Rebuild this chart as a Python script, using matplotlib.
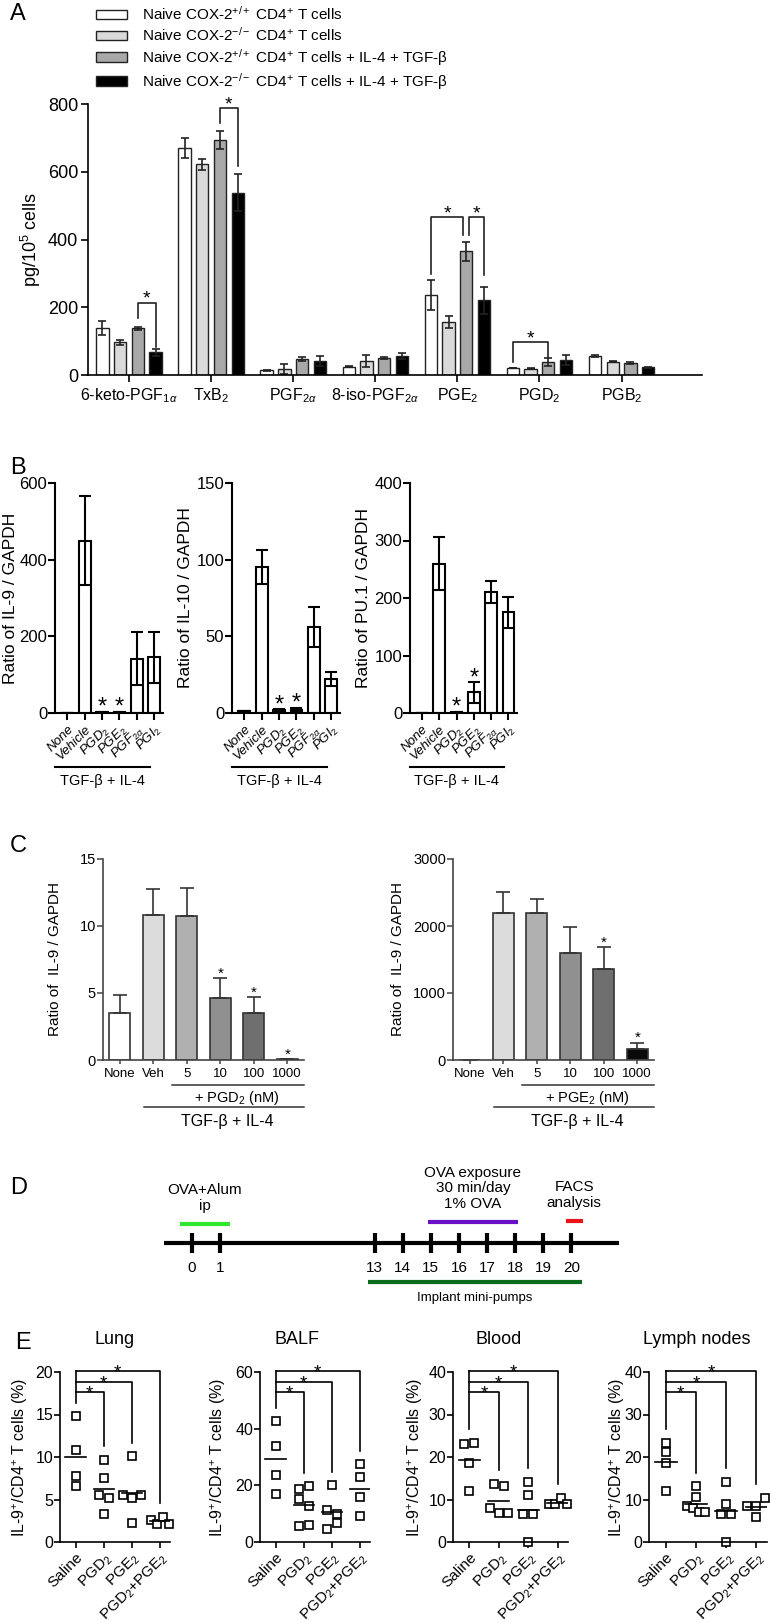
import numpy as np
import matplotlib
matplotlib.use('Agg')
import matplotlib.pyplot as plt
from matplotlib.transforms import blended_transform_factory as blend

plt.rcParams['font.family'] = ['Liberation Sans', 'DejaVu Sans']
plt.rcParams['mathtext.fontset'] = 'custom'
plt.rcParams['mathtext.rm'] = 'Liberation Sans'
plt.rcParams['mathtext.it'] = 'Liberation Sans:italic'
plt.rcParams['mathtext.bf'] = 'Liberation Sans:bold'
plt.rcParams['axes.linewidth'] = 1.2

# ---------------- data ----------------
# A: eicosanoid production
a_names = ['6-keto-PGF$_{1\\alpha}$', 'TxB$_2$', 'PGF$_{2\\alpha}$', '8-iso-PGF$_{2\\alpha}$',
           'PGE$_2$', 'PGD$_2$', 'PGB$_2$']
a_series = ['Naive COX-2$^{+/+}$ CD4$^{+}$ T cells',
            'Naive COX-2$^{-/-}$ CD4$^{+}$ T cells',
            'Naive COX-2$^{+/+}$ CD4$^{+}$ T cells + IL-4 + TGF-β',
            'Naive COX-2$^{-/-}$ CD4$^{+}$ T cells + IL-4 + TGF-β']
a_wt = [138, 671, 14, 25, 236, 21, 56]
a_wt_err = [20, 30, 2, 2, 43, 1, 2]
a_ko = [96, 622, 17, 42, 156, 19, 39]
a_ko_err = [8, 16, 15, 17, 17, 1, 1]
a_wt_cyt = [138, 693, 47, 51, 365, 39, 35]
a_wt_cyt_err = [5, 27, 6, 3, 28, 11, 3]
a_ko_cyt = [67, 538, 42, 57, 221, 44, 23]
a_ko_cyt_err = [10, 55, 14, 9, 40, 14, 2]
a_colors = ['white', '#dadada', '#a8a8a8', 'black']
# (group, bar i, bar j, top, leg i bottom, leg j bottom, nudge i, nudge j)
a_brackets = [(0, 2, 3, 214, 167, 84, 0, 0), (1, 2, 3, 789, 743, 617, 0, 0),
              (4, 0, 2, 465, 297, 413, 0, -0.035), (4, 2, 3, 465, 413, 295, 0.035, 0),
              (5, 0, 2, 98, 39, 54, 0, 0)]

# B: gene expression with prostanoids
b_treat = ['None', 'Vehicle', 'PGD$_2$', 'PGE$_2$', 'PGF$_{2\\alpha}$', 'PGI$_2$']
b_il9 = [1, 450, 2, 2, 142, 145]
b_il9_err = [0, 116, 1, 1, 70, 67]
b_il10 = [1, 95.4, 2, 2.2, 56, 22]
b_il10_err = [0, 11, 0.6, 1.3, 13, 4.5]
b_pu1 = [0.5, 260, 1, 36, 210, 175]
b_pu1_err = [0, 46, 1, 18, 19, 27]
b_sig = [2, 3]

# C: dose response
c_doses = ['None', 'Veh', '5', '10', '100', '1000']
c_pgd2 = [3.5, 10.8, 10.72, 4.6, 3.5, 0.05]
c_pgd2_err = [1.35, 1.95, 2.08, 1.5, 1.17, 0]
c_pge2 = [0, 2196, 2196, 1598, 1358, 165]
c_pge2_err = [0, 305, 205, 394, 329, 95]
c_pgd2_sig = [3, 4, 5]
c_pge2_sig = [4, 5]
c_colors = ['white', '#dcdcdc', '#b0b0b0', '#909090', '#6f6f6f', '#0a0a0a']

# D: protocol timeline (days)
d_days = [0, 1, 13, 14, 15, 16, 17, 18, 19, 20]
d_events = ['OVA+Alum\nip', 'OVA exposure\n30 min/day\n1% OVA', 'FACS\nanalysis']
d_start = [-0.43, 14.9, 19.8]
d_end = [1.35, 18.1, 20.4]
d_colors = ['#2fe82f', '#6a10c8', '#e8141a']
pump_start, pump_end = 12.75, 20.38

# E: IL-9+ CD4+ T cells in tissues
e_groups = ['Saline', 'PGD$_2$', 'PGE$_2$', 'PGD$_2$+PGE$_2$']
e_tissues = ['Lung', 'BALF', 'Blood', 'Lymph nodes']
lung = [[14.8, 10.8, 7.8, 6.55], [9.7, 7.5, 5.5, 5.2, 3.3],
        [10.1, 5.5, 5.2, 5.5, 2.25], [2.6, 2.1, 2.95, 2.1]]
balf = [[42.6, 33.9, 23.8, 16.8], [18.8, 19.6, 15.3, 12.6, 5.6, 6.0],
        [20.0, 11.2, 9.8, 4.7, 6.7], [27.4, 22.9, 15.9, 9.1]]
blood = [[23.1, 23.4, 18.6, 12.0], [13.7, 13.2, 8.0, 6.9, 6.9],
         [14.1, 11.0, 6.5, 6.5, 0.0], [8.9, 8.9, 10.4, 8.9]]
lymph = [[21.2, 23.3, 18.7, 12.0], [13.1, 10.6, 8.4, 8.0, 7.0, 7.0],
         [14.1, 8.9, 6.5, 6.5, 0.0], [8.5, 8.5, 10.4, 6.0]]
e_ymax = [20, 60, 40, 40]

# ---------------- figure ----------------
W, H = 770, 1622
fig = plt.figure(figsize=(W / 100, H / 100), dpi=100)


def px_ax(l, t, r, b):
    return fig.add_axes([l / W, 1 - b / H, (r - l) / W, (b - t) / H])


def clean(ax, lw=1.2, color='black'):
    for s in ['top', 'right']:
        ax.spines[s].set_visible(False)
    for s in ['left', 'bottom']:
        ax.spines[s].set_linewidth(lw)
        ax.spines[s].set_color(color)


def ylab(ax, text, cx, l, r, size):
    ax.set_ylabel(text, fontsize=size, va='center')
    ax.yaxis.set_label_coords((cx - l) / (r - l), 0.5)


def star(ax, x, y, size, dy_px):
    off = (dy_px - 0.30 * size * 100 / 72) * 0.72
    ax.annotate('*', (x, y), xytext=(0, off), textcoords='offset points',
                ha='center', va='center', fontsize=size, annotation_clip=False)


for lab, (x, y) in zip('ABCDE', [(10, 14), (10, 468), (10, 846), (10, 1188), (15, 1343)]):
    fig.text(x / W, 1 - y / H, lab, fontsize=17, ha='left', va='center')

# ---- A ----
axA = px_ax(88, 104, 702, 375)
xA = np.arange(len(a_names))
step = 0.216
a_vals = [a_wt, a_ko, a_wt_cyt, a_ko_cyt]
a_errs = [a_wt_err, a_ko_err, a_wt_cyt_err, a_ko_cyt_err]
handles = []
for k in range(4):
    h = axA.bar(xA + (k - 1.5) * step, a_vals[k], 0.15, yerr=a_errs[k], color=a_colors[k],
                edgecolor='#222222', linewidth=1, label=a_series[k],
                error_kw=dict(elinewidth=1.2, capsize=3, capthick=1.2, ecolor='#222222'))
    handles.append(h)
for g, i, j, top, bi, bj, ni, nj in a_brackets:
    xi = g + (i - 1.5) * step + ni
    xj = g + (j - 1.5) * step + nj
    axA.plot([xi, xi, xj, xj], [bi, top, top, bj], color='#222222', lw=1.2, clip_on=False)
    star(axA, (xi + xj) / 2, top, 14, 9)
axA.set_xlim(-0.5, 6.98)
axA.set_ylim(0, 800)
axA.set_yticks([0, 200, 400, 600, 800])
axA.set_xticks(xA)
axA.set_xticklabels(a_names, fontsize=11.5)
axA.tick_params(axis='y', labelsize=13, length=5, width=1.2, pad=2)
axA.tick_params(axis='x', length=5, width=1.2, pad=3)
clean(axA)
ylab(axA, 'pg/10$^5$ cells', 31, 88, 702, 13)
axA.legend(handles=handles, loc='upper left', bbox_to_anchor=(96 / W, 1 - 5 / H),
           bbox_transform=fig.transFigure, frameon=False, fontsize=11,
           handlelength=2.0, handleheight=0.6, handletextpad=1.0, labelspacing=0.2,
           borderpad=0, borderaxespad=0)

# ---- B ----
b_vals = [b_il9, b_il10, b_pu1]
b_errs = [b_il9_err, b_il10_err, b_pu1_err]
b_ylims = [600, 150, 400]
b_ticks = [[0, 200, 400, 600], [0, 50, 100, 150], [0, 100, 200, 300, 400]]
b_labels = ['Ratio of IL-9 / GAPDH', 'Ratio of IL-10 / GAPDH', 'Ratio of PU.1 / GAPDH']
b_boxes = [(55, 163), (232, 340), (410, 517)]
b_labx = [11, 186, 364]
xb = np.arange(len(b_treat))
for k in range(3):
    l, r = b_boxes[k]
    ax = px_ax(l, 483, r, 713)
    ax.bar(xb, b_vals[k], 0.68, yerr=b_errs[k], color='white', edgecolor='black', linewidth=1.5,
           error_kw=dict(elinewidth=1.5, capsize=4, capthick=1.5))
    ax.set_xlim(-0.7, 5.5)
    ax.set_ylim(0, b_ylims[k])
    ax.set_yticks(b_ticks[k])
    ax.set_xticks(xb)
    ax.set_xticklabels(b_treat, rotation=45, ha='right', va='top', rotation_mode='anchor',
                       fontsize=9.5, style='italic')
    ax.tick_params(axis='y', labelsize=12, length=5, width=1.5, pad=0.5)
    ax.tick_params(axis='x', length=5, width=1.5, pad=2)
    clean(ax, lw=1.5)
    ylab(ax, b_labels[k], b_labx[k], l, r, 12.5)
    for i in b_sig:
        star(ax, xb[i], b_vals[k][i] + b_errs[k][i], 17, 11)
    tr = blend(ax.transData, ax.transAxes)
    ax.plot([-0.7, 4.75], [-0.235, -0.235], color='black', lw=1.5, transform=tr, clip_on=False)
    ax.text(2.0, -0.296, 'TGF-β + IL-4', transform=tr, ha='center', va='center', fontsize=10.5)

# ---- C ----
c_vals = [c_pgd2, c_pge2]
c_errs = [c_pgd2_err, c_pge2_err]
c_sigs = [c_pgd2_sig, c_pge2_sig]
c_boxes = [(103, 304), (453, 654)]
c_ylim = [15, 3000]
c_ticks = [[0, 5, 10, 15], [0, 1000, 2000, 3000]]
c_labx = [55, 398]
c_agent = ['+ PGD$_2$ (nM)', '+ PGE$_2$ (nM)']
xc = np.arange(len(c_doses))
for k in range(2):
    l, r = c_boxes[k]
    ax = px_ax(l, 859, r, 1060)
    ax.bar(xc, c_vals[k], 0.63, color=c_colors, edgecolor='#333333', linewidth=1.2)
    ax.errorbar(xc, c_vals[k], yerr=[np.zeros(len(xc)), c_errs[k]], fmt='none',
                ecolor='#333333', elinewidth=1.2, capsize=5, capthick=1.2)
    ax.set_xlim(-0.5, 5.5)
    ax.set_ylim(0, c_ylim[k])
    ax.set_yticks(c_ticks[k])
    ax.set_xticks(xc)
    ax.set_xticklabels(c_doses, fontsize=9.5)
    ax.tick_params(axis='y', labelsize=10.5, length=4, width=1.1, pad=1, color='#444444')
    ax.tick_params(axis='x', length=3, width=1.1, pad=3, color='#444444')
    clean(ax, lw=1.2, color='#444444')
    ylab(ax, 'Ratio of  IL-9 / GAPDH', c_labx[k], l, r, 11)
    for i in c_sigs[k]:
        star(ax, xc[i], c_vals[k][i] + c_errs[k][i], 11, 9)
    tr = blend(ax.transData, ax.transAxes)
    ax.plot([1.55, 5.5], [-0.122, -0.122], color='#333333', lw=1.1, transform=tr, clip_on=False)
    ax.text(3.5, -0.19, c_agent[k], transform=tr, ha='center', va='center', fontsize=10.5)
    ax.plot([0.72, 5.5], [-0.234, -0.234], color='#333333', lw=1.1, transform=tr, clip_on=False)
    ax.text(3.2, -0.308, 'TGF-β + IL-4', transform=tr, ha='center', va='center', fontsize=11.5)

# ---- D ----
def tl(d):
    d = np.asarray(d, dtype=float)
    return np.where(d < 7, d, d - 6.5)


axD = px_ax(0, 1150, 770, 1310)
axD.set_xlim(-192 / 28.1, (770 - 192) / 28.1)
axD.set_ylim(1310, 1150)
axD.axis('off')
axD.plot(tl([-1.0, 21.7]), [1243, 1243], color='black', lw=3, solid_capstyle='butt')
for d in d_days:
    axD.plot(tl([d, d]), [1233, 1253], color='black', lw=3, solid_capstyle='butt')
    axD.text(tl(d), 1268, str(d), ha='center', va='center', fontsize=11)
for name, s, e, c, yb in zip(d_events, d_start, d_end, d_colors, [1224, 1222, 1221]):
    axD.plot(tl([s, e]), [yb, yb], color=c, lw=3, solid_capstyle='butt')
    axD.text(float(tl((s + e) / 2)), yb - 11, name, ha='center', va='bottom', fontsize=11,
             linespacing=1.15)
axD.plot(tl([pump_start, pump_end]), [1282, 1282], color='#0b6b1c', lw=3, solid_capstyle='butt')
axD.text(float(tl((pump_start + pump_end) / 2)), 1298, 'Implant mini-pumps', ha='center',
         va='center', fontsize=9.5)

# ---- E ----
def swarm(vals, ypx, xpx, thresh=8.5):
    vals = np.asarray(vals, dtype=float)
    order = np.argsort(-vals, kind='stable')
    clusters = [[order[0]]]
    for a, b in zip(order[:-1], order[1:]):
        if (vals[a] - vals[b]) * ypx < thresh:
            clusters[-1].append(b)
        else:
            clusters.append([b])
    off = np.zeros(len(vals))
    for c in clusters:
        c = sorted(c)
        n = len(c)
        if n > 1:
            d = min(10, 18 / (n - 1)) / xpx
            for i, idx in enumerate(c):
                off[idx] = (i - (n - 1) / 2) * d
    return off


e_data = [lung, balf, blood, lymph]
e_boxes = [(60, 170), (260, 370), (453, 568), (649, 767)]
e_title_x = [115, 297, 499, 697]
e_labx = [20, 218, 415, 617]
e_levels = [0.88, 0.94, 1.005]
for k in range(4):
    l, r = e_boxes[k]
    ax = px_ax(l, 1372, r, 1542)
    ymax = e_ymax[k]
    ypx = 170 / ymax
    xpx = (r - l) / 3.9
    for g, vals in enumerate(e_data[k]):
        off = swarm(vals, ypx, xpx)
        ax.plot(g + off, vals, 's', ms=5.3, mfc='white', mec='black', mew=1.2, clip_on=False)
        m = np.mean(vals)
        ax.plot([g - 0.36, g + 0.36], [m, m], color='black', lw=1.2)
    tops = [ymax * f for f in e_levels]
    sal_bottom = max(e_data[k][0]) + 0.08 * ymax
    ax.plot([0, 0], [sal_bottom, tops[-1]], color='black', lw=1.2, clip_on=False)
    for j in range(1, 4):
        leg = max(e_data[k][j]) + 0.08 * ymax
        ax.plot([0, j, j], [tops[j - 1], tops[j - 1], leg], color='black', lw=1.2, clip_on=False)
        star(ax, j / 2, tops[j - 1], 13.5, 4)
    ax.set_xlim(-0.55, 3.35)
    ax.set_ylim(0, ymax)
    ax.set_yticks(np.linspace(0, ymax, 5 if ymax != 60 else 4))
    ax.set_xticks(range(4))
    ax.set_xticklabels(e_groups, rotation=45, ha='right', va='top', rotation_mode='anchor',
                       fontsize=11)
    ax.tick_params(axis='y', labelsize=11.5, length=4, width=1.2, pad=1)
    ax.tick_params(axis='x', length=4, width=1.2, pad=2)
    clean(ax)
    ylab(ax, 'IL-9$^{+}$/CD4$^{+}$ T cells (%)', e_labx[k], l, r, 11.5)
    fig.text(e_title_x[k] / W, 1 - 1340 / H, e_tissues[k], ha='center', va='center', fontsize=13)

fig.savefig('out.png', dpi=100)
